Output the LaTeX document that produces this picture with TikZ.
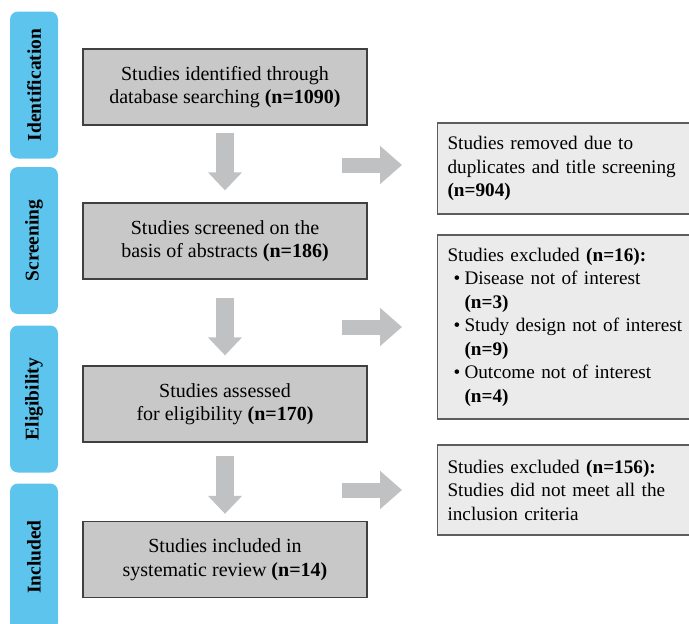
\documentclass[tikz,border=0pt]{standalone}
\usepackage{fontspec}
\setmainfont{Liberation Serif}
\definecolor{tabblue}{RGB}{93,196,237}
\definecolor{boxgray}{RGB}{200,200,200}
\definecolor{sidegray}{RGB}{235,235,235}
\definecolor{edgegray}{RGB}{64,64,64}
\definecolor{arrowgray}{RGB}{192,193,195}
\usetikzlibrary{arrows.meta,positioning}
\newcommand{\exclitem}[2]{\hspace*{6pt}\makebox[11pt][l]{\textbullet}#1\\\hspace*{17pt}\textbf{(n=#2)}}

\begin{document}
\begin{tikzpicture}[x=1pt, y=-1pt,
  phase/.style={fill=tabblue, rounded corners=8pt, rotate=90, minimum width=147pt, minimum height=48pt, inner sep=0pt, font=\fontsize{19.5}{22}\selectfont\bfseries},
  stage/.style={draw=edgegray, line width=1.3pt, fill=boxgray, minimum width=284pt, minimum height=76pt, inner sep=0pt, align=center, font=\fontsize{20}{23.5}\selectfont},
  removed/.style={draw=edgegray!85, line width=1.1pt, fill=sidegray, anchor=west, text width=255pt, inner xsep=10pt, align=left, font=\fontsize{19.2}{23.5}\selectfont},
  downarrow/.style={draw=arrowgray, line width=18pt, -{Triangle[width=33pt,length=18pt]}},
  sidearrow/.style={draw=arrowgray, line width=15pt, -{Triangle[width=37pt,length=22pt]}}]
  \path[use as bounding box, clip] (0,0) rectangle (689,624);

  \node[phase] (ident) at (34,85) {Identification};
  \node[phase] (screen) at (34,240.5) {Screening};
  \node[phase] (elig) at (34,399) {Eligibility};
  \node[phase] (incl) at (34,557) {Included};

  \node[stage] (found) at (225,87) {Studies identified through\\database searching \textbf{(n=1090)}};
  \node[stage] (screened) at (225,241) {Studies screened on the\\basis of abstracts \textbf{(n=186)}};
  \node[stage] (assessed) at (225,404) {Studies assessed\\for eligibility \textbf{(n=170)}};
  \node[stage] (included) at (225,559.5) {Studies included in\\systematic review \textbf{(n=14)}};

  \node[removed, minimum height=91pt] (dupes) at (437,168.5) {Studies removed due to\\duplicates and title screening\\\textbf{(n=904)}};
  \node[removed, minimum height=184pt] (excl16) at (437,327) {Studies excluded \textbf{(n=16):}\\\exclitem{Disease not of interest}{3}\\\exclitem{Study design not of interest}{9}\\\exclitem{Outcome not of interest}{4}};
  \node[removed, minimum height=90pt] (excl156) at (437,490) {Studies excluded \textbf{(n=156):}\\Studies did not meet all the\\inclusion criteria};

  \draw[downarrow, shorten <=7pt, shorten >=12pt] (found) -- (screened);
  \draw[downarrow, shorten <=18pt, shorten >=10pt] (screened) -- (assessed);
  \draw[downarrow, shorten <=13pt, shorten >=7pt] (assessed) -- (included);

  \coordinate (dupes-in) at (342,165);
  \coordinate (excl16-in) at (342,327);
  \coordinate (excl156-in) at (342,490);
  \draw[sidearrow, shorten >=35pt] (dupes-in) -- (dupes-in -| dupes.west);
  \draw[sidearrow, shorten >=35pt] (excl16-in) -- (excl16-in -| excl16.west);
  \draw[sidearrow, shorten >=35pt] (excl156-in) -- (excl156-in -| excl156.west);
\end{tikzpicture}
\end{document}
